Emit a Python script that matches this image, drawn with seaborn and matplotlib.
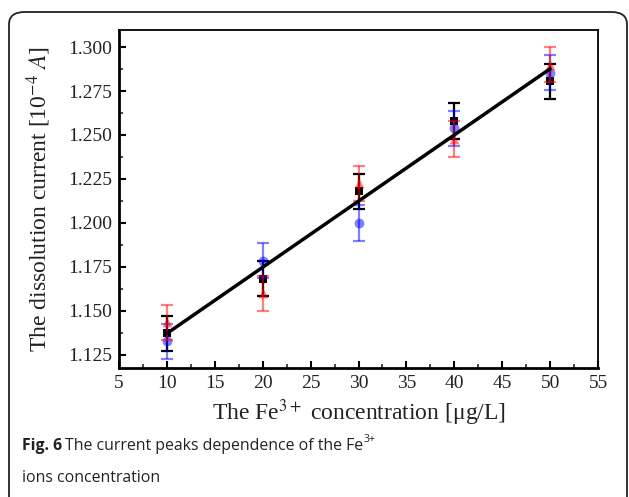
import numpy as np
import pandas as pd
import matplotlib
matplotlib.use("Agg")
import matplotlib.pyplot as plt
from matplotlib.patches import FancyBboxPatch
from matplotlib.ticker import MultipleLocator
import seaborn as sns

# ---- data ----
conc = [10, 20, 30, 40, 50]
mean_vals = [1.1373, 1.1682, 1.2180, 1.2580, 1.2805]
blue_vals = [1.1327, 1.1784, 1.2000, 1.2538, 1.2855]
red_vals = [1.1434, 1.1600, 1.2226, 1.2477, 1.2900]
mean_err = [0.010, 0.010, 0.010, 0.010, 0.010]
blue_err = [0.010, 0.010, 0.010, 0.010, 0.010]
red_err = [0.010, 0.010, 0.010, 0.010, 0.010]
x_ticks = [5, 10, 15, 20, 25, 30, 35, 40, 45, 50, 55]
y_ticks = [1.125, 1.150, 1.175, 1.200, 1.225, 1.250, 1.275, 1.300]

sns.set_theme(style="ticks")
plt.rcParams['font.family'] = ['Liberation Serif', 'DejaVu Serif']
plt.rcParams['mathtext.fontset'] = 'stix'

W, H = 629, 497
fig = plt.figure(figsize=(W / 100, H / 100), dpi=100)
fig.patch.set_facecolor('white')

# card frame
frame = FancyBboxPatch((9 / W, 1 - 520 / H), (627 - 9) / W, (520 - 12) / H,
                       boxstyle="round,pad=0,rounding_size=0.025",
                       transform=fig.transFigure, fill=False,
                       edgecolor='#222222', linewidth=1.3, clip_on=False)
fig.patches.append(frame)

ax = fig.add_axes([119 / W, 1 - 368 / H, (598 - 119) / W, (368 - 30) / H])

df = pd.DataFrame({'conc': conc, 'mean': mean_vals, 'blue': blue_vals, 'red': red_vals})

# error bars
ax.errorbar(conc, mean_vals, yerr=mean_err, fmt='none', ecolor='black',
            elinewidth=1.6, capsize=4, capthick=1.6, zorder=2)
ax.errorbar(conc, blue_vals, yerr=blue_err, fmt='none', ecolor=(0, 0, 1, 0.5),
            elinewidth=1.6, capsize=4, capthick=1.6, zorder=3)
ax.errorbar(conc, red_vals, yerr=red_err, fmt='none', ecolor=(1, 0, 0, 0.5),
            elinewidth=1.6, capsize=4, capthick=1.6, zorder=4)

# markers
sns.scatterplot(data=df, x='conc', y='mean', marker='s', color='black', s=38,
                edgecolor='black', linewidth=0, ax=ax, zorder=2.5)
sns.scatterplot(data=df, x='conc', y='blue', marker='o', color=(0, 0, 1), alpha=0.5,
                s=50, linewidth=0, ax=ax, zorder=3.5)
sns.scatterplot(data=df, x='conc', y='red', marker='^', color=(1, 0, 0), alpha=0.5,
                s=50, linewidth=0, ax=ax, zorder=4.5)

# linear fit of the mean values
sns.regplot(data=df, x='conc', y='mean', scatter=False, ci=None, ax=ax,
            line_kws={'color': 'black', 'linewidth': 2.5, 'zorder': 5})

ax.set_xlim(5, 55)
ax.set_ylim(1.1175, 1.3097)
ax.set_xticks(x_ticks)
ax.set_yticks(y_ticks)
ax.set_xticklabels([str(v) for v in x_ticks])
ax.set_yticklabels([f"{v:.3f}" for v in y_ticks])
ax.xaxis.set_minor_locator(MultipleLocator(2.5))
ax.yaxis.set_minor_locator(MultipleLocator(0.0125))
ax.tick_params(axis='both', which='major', direction='in', length=5, width=1.5,
               labelsize=14, colors='black', labelcolor='#222222', pad=5)
ax.tick_params(axis='both', which='minor', direction='in', length=3, width=1.2)
ax.tick_params(top=False, right=False, which='both')
for side in ['left', 'bottom']:
    ax.spines[side].set_linewidth(2.0)
for side in ['top', 'right']:
    ax.spines[side].set_visible(True)
    ax.spines[side].set_linewidth(1.3)
for s in ax.spines.values():
    s.set_color('black')

ax.set_xlabel(r'The Fe$^{3+}$ concentration [μg/L]', fontsize=17, labelpad=4, color='#222222')
ax.set_ylabel(r'The dissolution current [10$^{-4}$ $A$]', fontsize=17, labelpad=11, color='#222222')

# caption
cap_font = ['Open Sans', 'DejaVu Sans']
fig.canvas.draw()
renderer = fig.canvas.get_renderer()
t1 = fig.text(22 / W, 1 - 446 / H, 'Fig. 6', family=cap_font, weight='bold',
              fontsize=11.4, color='#222222', va='center', ha='left')
bb = t1.get_window_extent(renderer)
t2 = fig.text((bb.x1 + 3) / W, 1 - 446 / H, 'The current peaks dependence of the Fe',
              family=cap_font, fontsize=11.4, color='#222222', va='center', ha='left')
bb2 = t2.get_window_extent(renderer)
fig.text((bb2.x1 + 0.5) / W, 1 - 440 / H, '3+', family=cap_font, fontsize=7.5,
         color='#222222', va='center', ha='left')
fig.text(22 / W, 1 - 478 / H, 'ions concentration', family=cap_font,
         fontsize=11.4, color='#222222', va='center', ha='left')

fig.savefig('out.png', dpi=100, facecolor='white')
